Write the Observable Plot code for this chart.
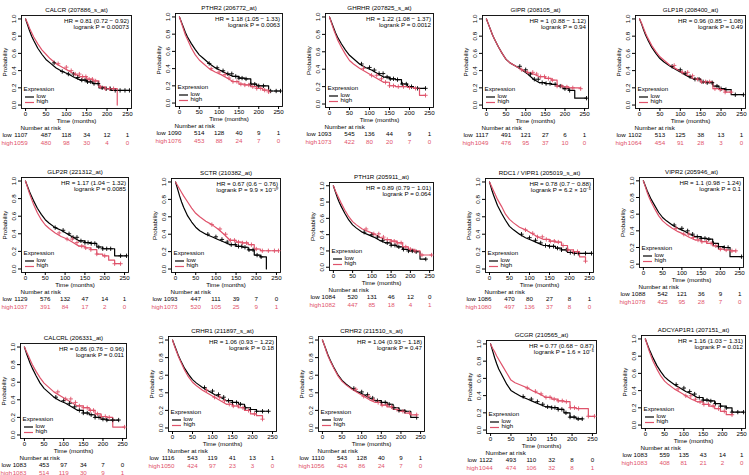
<!DOCTYPE html>
<html><head><meta charset="utf-8">
<script src="https://cdn.jsdelivr.net/npm/d3@7"></script>
<script src="https://cdn.jsdelivr.net/npm/@observablehq/plot@0.6"></script>
<style>
html,body{margin:0;padding:0;background:#fff;}
#chart{position:relative;width:749px;height:475px;overflow:hidden;background:#fff;}
#chart svg{position:absolute;}
</style></head><body><div id="chart"></div>
<script>
// ---------- data ----------
const panelTitles = ["CALCR (207886_s_at)","PTHR2 (206772_at)","GHRHR (207825_s_at)","GIPR (208105_at)","GLP1R (208400_at)",
  "GLP2R (221312_at)","SCTR (210382_at)","PTH1R (205911_at)","RDC1 / VIPR1 (205019_s_at)","VIPR2 (205946_at)",
  "CALCRL (206331_at)","CRHR1 (211897_s_at)","CRHR2 (211510_s_at)","GCGR (210565_at)","ADCYAP1R1 (207151_at)"];
const hrLabels = ["HR = 0.81 (0.72 − 0.92)","HR = 1.18 (1.05 − 1.33)","HR = 1.22 (1.08 − 1.37)","HR = 1 (0.88 − 1.12)","HR = 0.96 (0.85 − 1.08)",
  "HR = 1.17 (1.04 − 1.32)","HR = 0.67 (0.6 − 0.76)","HR = 0.89 (0.79 − 1.01)","HR = 0.78 (0.7 − 0.88)","HR = 1.1 (0.98 − 1.24)",
  "HR = 0.86 (0.76 − 0.96)","HR = 1.06 (0.93 − 1.22)","HR = 1.04 (0.93 − 1.18)","HR = 0.77 (0.68 − 0.87)","HR = 1.16 (1.03 − 1.31)"];
const pLabels = ["logrank P = 0.00073","logrank P = 0.0063","logrank P = 0.0012","logrank P = 0.94","logrank P = 0.49",
  "logrank P = 0.0085","logrank P = 9.9 × 10⁻¹⁰","logrank P = 0.064","logrank P = 6.2 × 10⁻⁵","logrank P = 0.1",
  "logrank P = 0.011","logrank P = 0.18","logrank P = 0.47","logrank P = 1.6 × 10⁻⁵","logrank P = 0.012"];

const times = [0,5,10,15,20,30,40,50,60,75,90,105,120,135,150,165,180,195,210,225,240,255];
const lowSurvival = [
  [1,0.93,0.86,0.8,0.75,0.66,0.59,0.53,0.49,0.43,0.39,0.36,0.32,0.29,0.27,0.25,0.2,0.19,0.17,0.17,0.17,0.17],
  [1,0.94,0.88,0.82,0.77,0.69,0.62,0.56,0.52,0.46,0.41,0.375,0.34,0.31,0.29,0.28,0.22,0.2,0.2,0.14,0.14,0.14],
  [1,0.94,0.88,0.82,0.77,0.69,0.62,0.56,0.52,0.46,0.42,0.39,0.35,0.31,0.29,0.28,0.23,0.2,0.18,0.18,0.18,null],
  [1,0.94,0.88,0.82,0.77,0.68,0.6,0.53,0.49,0.45,0.41,0.36,0.3,0.26,0.25,0.24,0.22,0.19,0.17,0.08,0.08,0.08],
  [1,0.94,0.87,0.81,0.76,0.67,0.6,0.54,0.5,0.45,0.41,0.37,0.33,0.3,0.27,0.26,0.22,0.19,0.18,0.12,0.12,0.12],
  [1,0.94,0.88,0.83,0.78,0.69,0.62,0.56,0.52,0.47,0.44,0.4,0.36,0.32,0.3,0.29,0.25,0.23,0.23,0.15,0.15,0.15],
  [1,0.92,0.84,0.77,0.71,0.61,0.54,0.48,0.44,0.4,0.37,0.34,0.31,0.28,0.26,0.25,0.22,0.16,0.14,0,null,null],
  [1,0.93,0.86,0.8,0.75,0.66,0.58,0.52,0.48,0.43,0.4,0.37,0.33,0.3,0.27,0.25,0.22,0.2,0.19,0.1,0.1,null],
  [1,0.92,0.85,0.79,0.73,0.64,0.56,0.49,0.45,0.4,0.36,0.33,0.3,0.27,0.26,0.24,0.22,0.19,0.18,0.18,0.18,0.18],
  [1,0.94,0.88,0.83,0.78,0.7,0.62,0.56,0.52,0.47,0.43,0.4,0.36,0.33,0.31,0.3,0.25,0.21,0.2,0.09,0.09,0.09],
  [1,0.93,0.87,0.81,0.76,0.67,0.59,0.53,0.49,0.43,0.39,0.36,0.32,0.28,0.25,0.23,0.2,0.18,0.17,0.17,0.17,null],
  [1,0.94,0.88,0.82,0.77,0.68,0.61,0.55,0.51,0.46,0.42,0.38,0.35,0.31,0.29,0.27,0.23,0.21,0.19,0.19,0.19,null],
  [1,0.94,0.88,0.82,0.77,0.68,0.6,0.54,0.5,0.45,0.41,0.38,0.34,0.31,0.29,0.27,0.23,0.2,0.19,0.12,0.12,null],
  [1,0.92,0.84,0.77,0.71,0.62,0.53,0.46,0.43,0.39,0.36,0.33,0.3,0.27,0.26,0.24,0.2,0.15,0.13,0.13,null,null],
  [1,0.94,0.88,0.83,0.78,0.69,0.62,0.56,0.52,0.47,0.43,0.39,0.36,0.32,0.29,0.28,0.25,0.22,0.2,0.15,0.15,0.15]
];
const highSurvival = [
  [1,0.95,0.89,0.84,0.79,0.71,0.64,0.59,0.54,0.48,0.44,0.4,0.36,0.33,0.3,0.28,0.21,0.19,0.19,0,null,null],
  [1,0.93,0.86,0.79,0.74,0.64,0.56,0.5,0.46,0.4,0.36,0.33,0.29,0.25,0.22,0.21,0.19,0.17,0.15,0.13,null,null],
  [1,0.93,0.86,0.8,0.74,0.65,0.57,0.5,0.46,0.41,0.37,0.33,0.29,0.25,0.21,0.2,0.2,0.19,0.18,0.1,0.1,null],
  [1,0.94,0.88,0.82,0.77,0.68,0.6,0.53,0.49,0.45,0.41,0.38,0.36,0.33,0.31,0.29,0.22,0.21,0.2,0.2,0.19,null],
  [1,0.95,0.89,0.83,0.78,0.69,0.62,0.56,0.52,0.46,0.42,0.38,0.34,0.3,0.27,0.27,0.19,0.18,0.15,0.15,null,null],
  [1,0.93,0.86,0.8,0.74,0.64,0.56,0.5,0.46,0.41,0.37,0.34,0.3,0.26,0.24,0.22,0.17,0.15,0.1,0.06,0.06,null],
  [1,0.96,0.92,0.88,0.84,0.77,0.7,0.64,0.6,0.55,0.51,0.46,0.4,0.33,0.31,0.3,0.28,0.23,0.21,0.21,0.21,0.21],
  [1,0.94,0.89,0.84,0.79,0.7,0.62,0.56,0.52,0.47,0.44,0.41,0.37,0.34,0.32,0.3,0.25,0.22,0.2,0.15,0.15,0.15],
  [1,0.95,0.9,0.85,0.8,0.72,0.63,0.57,0.53,0.48,0.45,0.41,0.37,0.34,0.32,0.31,0.27,0.22,0.2,0.14,0.09,null],
  [1,0.93,0.86,0.8,0.75,0.66,0.58,0.52,0.48,0.43,0.39,0.36,0.32,0.29,0.27,0.25,0.22,0.18,0.17,0.16,0.16,null],
  [1,0.95,0.9,0.85,0.8,0.72,0.65,0.59,0.55,0.49,0.45,0.41,0.37,0.33,0.31,0.28,0.24,0.21,0.2,0.09,0.09,0.09],
  [1,0.93,0.87,0.81,0.76,0.66,0.58,0.52,0.48,0.43,0.39,0.35,0.31,0.27,0.25,0.23,0.2,0.16,0.14,0.1,null,null],
  [1,0.94,0.87,0.81,0.76,0.67,0.59,0.53,0.49,0.44,0.4,0.36,0.32,0.29,0.26,0.24,0.21,0.19,0.17,0.15,0.15,null],
  [1,0.95,0.91,0.86,0.82,0.74,0.66,0.58,0.55,0.52,0.49,0.45,0.42,0.38,0.36,0.34,0.33,0.26,0.25,0.25,0.16,0.16],
  [1,0.93,0.86,0.8,0.74,0.65,0.57,0.51,0.47,0.42,0.38,0.34,0.3,0.27,0.24,0.22,0.19,0.16,0.12,0.12,null,null]
];
const lowCensor = [
  [70,90,105,118,128,138,146,152,160,168,178,188,198,208,220,232,244,255],
  [75,95,110,122,132,142,150,158,168,180,190,200,212,230,244,255],
  [80,100,112,124,134,144,152,160,170,182,192,205,220,240],
  [85,100,112,122,132,142,152,162,175,188,200,212,255],
  [80,100,112,124,136,146,156,166,178,190,200,212,235,255],
  [75,95,110,120,130,140,150,158,166,175,185,195,205,215,240,255],
  [80,100,115,128,138,148,156,164,172,182,192,202,212],
  [80,100,115,128,140,150,160,170,182,195,205,215,240],
  [80,100,115,128,140,150,160,170,180,192,202,212,222,240,255],
  [80,100,115,128,140,150,160,170,182,195,210,220,255],
  [80,100,115,128,140,150,160,170,180,190,200,210,225,240],
  [80,100,115,128,140,150,160,170,182,195,210,225,240],
  [80,100,115,128,140,150,160,170,182,195,210,240],
  [80,100,115,128,140,150,158,166,175,185,195,205,215,225],
  [80,100,115,128,140,150,160,170,182,195,210,225,240,255]
];
const highCensor = [
  [80,100,112,122,132,140,148,156,164,172,184,196,206,216],
  [80,100,115,125,135,145,155,165,175,185,195,205,215,225],
  [85,105,118,130,140,150,160,172,185,200,215,240],
  [90,105,118,128,138,148,158,168,180,192,205,220,240],
  [85,105,118,130,142,152,162,172,185,198,210,225],
  [85,105,118,130,142,152,165,180,200,225,240],
  [90,110,124,136,146,156,166,176,188,200,215,230,245,255],
  [85,105,118,130,140,150,158,166,176,188,200,212,230,255],
  [90,108,120,132,142,152,162,172,184,196,210,220,240],
  [85,105,118,130,142,152,164,176,188,200,215,230,240],
  [85,105,118,130,140,150,160,168,176,186,196,206,216,255],
  [85,105,118,130,142,152,164,176,190,205,225],
  [85,105,118,130,142,152,164,176,190,205,222,240],
  [90,110,124,136,146,156,166,176,186,196,206,216,240,255],
  [85,105,118,130,142,152,164,176,190,205,225]
];
const riskTimes = [0,50,100,150,200,250];
const lowRisk = [
  [1107,487,118,34,12,1],[1090,514,128,40,9,1],[1093,545,136,44,9,1],[1117,491,121,27,6,1],[1102,513,125,38,13,1],
  [1129,576,132,47,14,1],[1093,447,111,39,7,0],[1084,520,131,46,12,0],[1086,470,80,27,8,1],[1088,542,121,36,9,1],
  [1083,453,97,34,7,0],[1116,543,119,41,13,1],[1110,543,128,40,9,1],[1122,493,110,32,8,0],[1083,559,135,43,14,1]
];
const highRisk = [
  [1059,480,98,30,4,0],[1076,453,88,24,7,0],[1073,422,80,20,7,0],[1049,476,95,37,10,0],[1064,454,91,28,3,0],
  [1037,391,84,17,2,0],[1073,520,105,25,9,1],[1082,447,85,18,4,1],[1080,497,136,37,8,0],[1078,425,95,28,7,0],
  [1083,514,119,30,9,1],[1050,424,97,23,3,0],[1056,424,86,24,7,0],[1044,474,106,32,8,1],[1083,408,81,21,2,0]
];
const probTicks = [0,0.2,0.4,0.6,0.8,1.0];

// ---------- layout (frame boxes in page pixels) ----------
const boxes = [
  [21,15,131,108],[175,13,282,106],[325,13,433,107],[482,15,588,108],[635,15,745,108],
  [21,177,128,272],[171,178,280,272],[329,182,433,270],[485,178,593,272],[639,177,743,267],
  [20,343,126,438],[168,336,276,431],[318,336,424,431],[486,340,596,433],[641,335,745,428]
];

const RED = "#DF536B";
const FONT = "'Liberation Sans', Arial, Helvetica, sans-serif";
const FS = 6.2;
const SPLIT = 135; // dense part drawn smooth, sparse tail drawn as steps
const mL = 26, mR = 6, mT = 14, mB = 42;
const chart = document.getElementById("chart");

panelTitles.forEach((title, i) => {
  const [x0, y0, x1, y1] = boxes[i];
  const toCurve = vals => times.map((t, j) => ({t, s: vals[j]})).filter(d => d.s != null);
  const lowData = toCurve(lowSurvival[i]), highData = toCurve(highSurvival[i]);
  const stepAt = (data, c) => { let s = data[0].s; for (const d of data) if (d.t <= c) s = d.s; return s; };
  const cens = (data, arr) => arr.map(c => ({t: c, s: stepAt(data, c)}));
  const riskRow = arr => riskTimes.map((t, j) => ({t, n: String(arr[j])}));
  const lr = riskRow(lowRisk[i]), hr = riskRow(highRisk[i]);
  const curveMarks = (data, color) => [
    Plot.line(data.filter(d => d.t <= SPLIT), {x: "t", y: "s", curve: "linear", stroke: color, strokeWidth: 1.2}),
    Plot.line(data.filter(d => d.t >= SPLIT), {x: "t", y: "s", curve: "step-after", stroke: color, strokeWidth: 1.2})
  ];

  const legendLines = (index, scales, values, dims) => {
    const g = d3.create("svg:g");
    const bx = dims.marginLeft, by = dims.height - dims.marginBottom;
    [["#000", -11], [RED, -5.5]].forEach(([c, dy]) => {
      g.append("line").attr("x1", bx + 4).attr("x2", bx + 13)
        .attr("y1", by + dy).attr("y2", by + dy)
        .attr("stroke", c).attr("stroke-width", 1.2);
    });
    return g.node();
  };

  const svg = Plot.plot({
    width: x1 - x0 + mL + mR, height: y1 - y0 + mT + mB,
    marginLeft: mL, marginRight: mR, marginTop: mT, marginBottom: mB,
    x: {domain: [-10, 260]},
    y: {domain: [-0.04, 1.04]},
    style: {background: "transparent", overflow: "visible", fontFamily: FONT, fontSize: FS + "px", color: "#000"},
    marks: [
      Plot.frame({stroke: "#000", strokeWidth: 0.9}),
      Plot.axisX({ticks: riskTimes, tickSize: 3, tickPadding: 0, tickFormat: d => String(d), label: null, fontSize: FS}),
      Plot.axisY({ticks: probTicks, tickSize: 3, tickPadding: 3, tickRotate: -90, tickFormat: d => d.toFixed(1), label: null, fontSize: FS}),
      Plot.text(["Probability"], {text: d => d, frameAnchor: "left", rotate: -90, dx: -15, lineAnchor: "bottom", textAnchor: "middle", fontSize: FS}),
      Plot.text(["Time (months)"], {text: d => d, frameAnchor: "bottom", dy: 14, fontSize: FS}),
      Plot.text([title], {text: d => d, frameAnchor: "top", dy: -8, fontSize: FS}),
      Plot.text([hrLabels[i] + "\n" + pLabels[i]], {text: d => d, frameAnchor: "top-right", textAnchor: "end", lineAnchor: "top", dx: -2.5, dy: 3.3, lineHeight: 0.98, fontSize: FS}),
      ...curveMarks(lowData, "#000"),
      ...curveMarks(highData, RED),
      Plot.dot(cens(lowData, lowCensor[i]), {x: "t", y: "s", symbol: "plus", r: 1.5, stroke: "#000", strokeWidth: 0.9}),
      Plot.dot(cens(highData, highCensor[i]), {x: "t", y: "s", symbol: "plus", r: 1.5, stroke: RED, strokeWidth: 0.9}),
      Plot.text(["Expression"], {text: d => d, frameAnchor: "bottom-left", textAnchor: "start", dx: 2, dy: -18, fontSize: FS}),
      Plot.text(["low"], {text: d => d, frameAnchor: "bottom-left", textAnchor: "start", dx: 15, dy: -11, fontSize: FS}),
      Plot.text(["high"], {text: d => d, frameAnchor: "bottom-left", textAnchor: "start", dx: 15, dy: -5.5, fontSize: FS}),
      legendLines,
      Plot.text(["Number at risk"], {text: d => d, frameAnchor: "bottom-left", textAnchor: "start", dx: -1, dy: 21, fontSize: FS}),
      Plot.text(["low"], {text: d => d, frameAnchor: "bottom-left", textAnchor: "start", dx: -19, dy: 28, fontSize: FS}),
      Plot.text(["high"], {text: d => d, frameAnchor: "bottom-left", textAnchor: "start", dx: -20, dy: 36, fill: RED, fontSize: FS}),
      Plot.text(lr.slice(0, 1), {x: "t", text: "n", frameAnchor: "bottom", textAnchor: "end", dx: 2, dy: 28, fontSize: FS}),
      Plot.text(lr.slice(1), {x: "t", text: "n", frameAnchor: "bottom", dy: 28, fontSize: FS}),
      Plot.text(hr.slice(0, 1), {x: "t", text: "n", frameAnchor: "bottom", textAnchor: "end", dx: 2, dy: 36, fill: RED, fontSize: FS}),
      Plot.text(hr.slice(1), {x: "t", text: "n", frameAnchor: "bottom", dy: 36, fill: RED, fontSize: FS})
    ]
  });
  svg.style.left = (x0 - mL) + "px";
  svg.style.top = (y0 - mT) + "px";
  chart.appendChild(svg);
});
</script></body></html>
